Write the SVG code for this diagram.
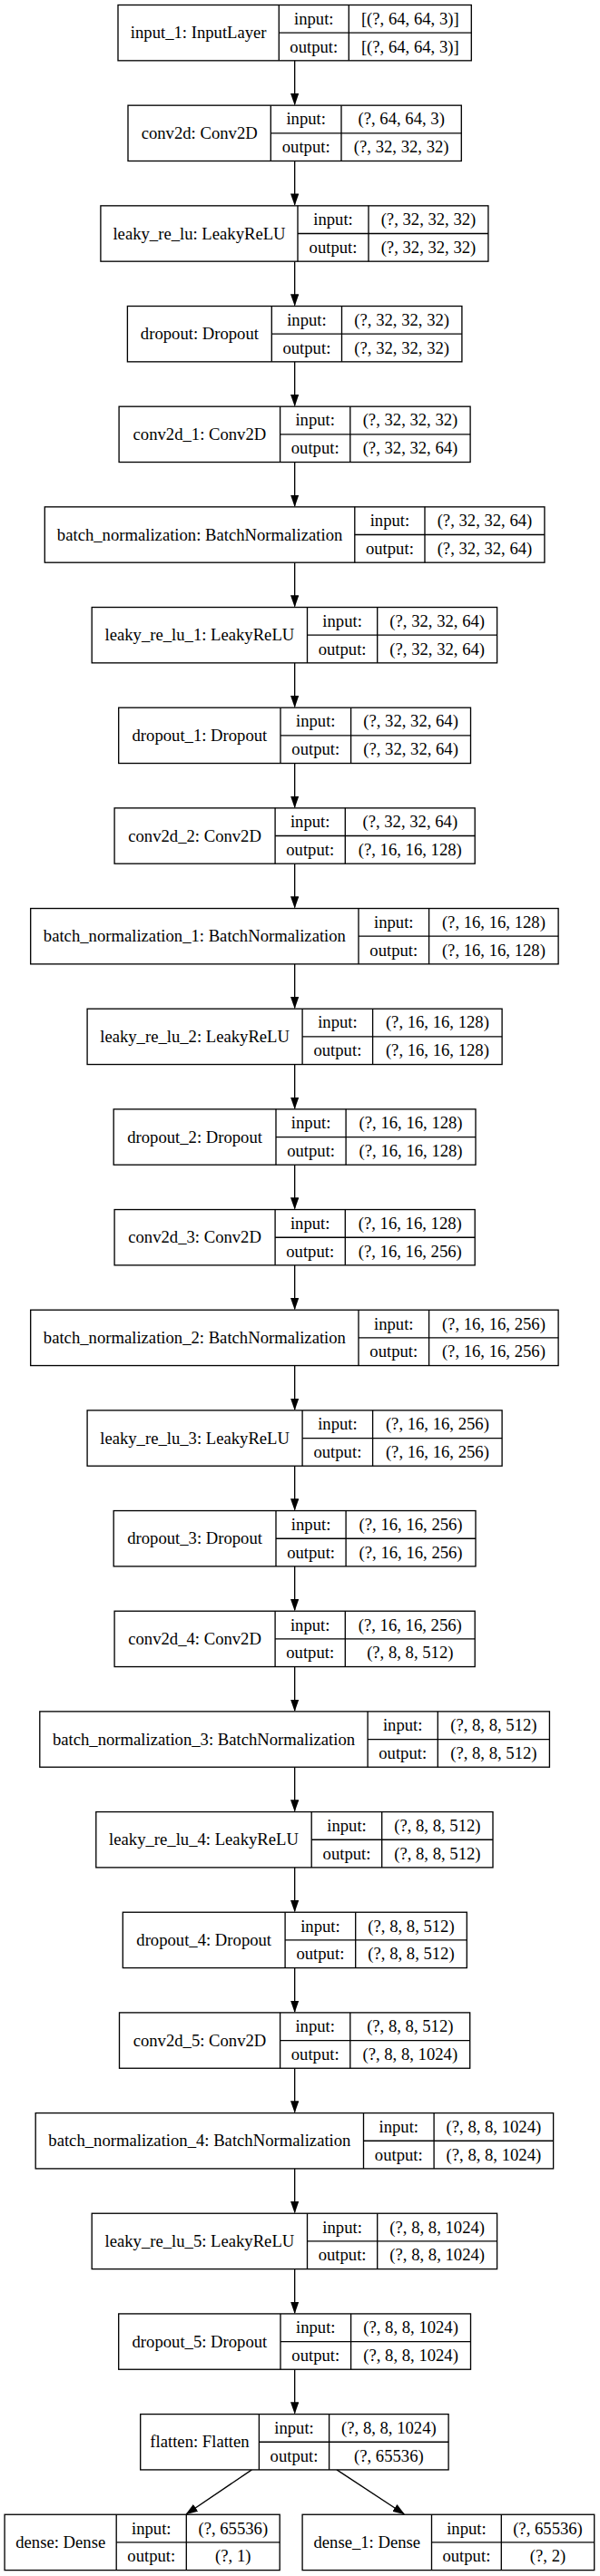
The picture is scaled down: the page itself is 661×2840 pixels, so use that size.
<svg xmlns="http://www.w3.org/2000/svg" width="661" height="2840" viewBox="0 0 661 2840">
<style>
.bg{fill:#ffffff}
.node rect{fill:#ffffff;stroke:#000000;stroke-width:1.33}
.node line{stroke:#000000;stroke-width:1.33}
.node text{font-family:"Liberation Serif","Times New Roman",serif;font-size:18.67px;fill:#000000;text-anchor:middle}
.edges line{stroke:#000000;stroke-width:1.33}
</style>
<defs>
<marker id="ah" markerUnits="userSpaceOnUse" viewBox="0 0 13.33 9.33" refX="12.33" refY="4.67" markerWidth="13.33" markerHeight="9.33" orient="auto">
<path d="M0,0 L13.33,4.67 L0,9.33 Z" fill="#000000"/>
</marker>
</defs>
<rect class="bg" x="0" y="0" width="661" height="2840"/>

<g id="edges" class="edges">
<line x1="324.67" y1="66.8" x2="324.67" y2="115.2" marker-end="url(#ah)"/>
<line x1="324.67" y1="177.5" x2="324.67" y2="225.8" marker-end="url(#ah)"/>
<line x1="324.67" y1="288.2" x2="324.67" y2="336.5" marker-end="url(#ah)"/>
<line x1="324.67" y1="398.8" x2="324.67" y2="447.2" marker-end="url(#ah)"/>
<line x1="324.67" y1="509.5" x2="324.67" y2="557.9" marker-end="url(#ah)"/>
<line x1="324.67" y1="620.2" x2="324.67" y2="668.5" marker-end="url(#ah)"/>
<line x1="324.67" y1="730.9" x2="324.67" y2="779.2" marker-end="url(#ah)"/>
<line x1="324.67" y1="841.5" x2="324.67" y2="889.9" marker-end="url(#ah)"/>
<line x1="324.67" y1="952.2" x2="324.67" y2="1000.5" marker-end="url(#ah)"/>
<line x1="324.67" y1="1062.9" x2="324.67" y2="1111.2" marker-end="url(#ah)"/>
<line x1="324.67" y1="1173.5" x2="324.67" y2="1221.9" marker-end="url(#ah)"/>
<line x1="324.67" y1="1284.2" x2="324.67" y2="1332.5" marker-end="url(#ah)"/>
<line x1="324.67" y1="1394.9" x2="324.67" y2="1443.2" marker-end="url(#ah)"/>
<line x1="324.67" y1="1505.5" x2="324.67" y2="1553.9" marker-end="url(#ah)"/>
<line x1="324.67" y1="1616.2" x2="324.67" y2="1664.5" marker-end="url(#ah)"/>
<line x1="324.67" y1="1726.9" x2="324.67" y2="1775.2" marker-end="url(#ah)"/>
<line x1="324.67" y1="1837.5" x2="324.67" y2="1885.9" marker-end="url(#ah)"/>
<line x1="324.67" y1="1948.2" x2="324.67" y2="1996.6" marker-end="url(#ah)"/>
<line x1="324.67" y1="2058.9" x2="324.67" y2="2107.2" marker-end="url(#ah)"/>
<line x1="324.67" y1="2169.6" x2="324.67" y2="2217.9" marker-end="url(#ah)"/>
<line x1="324.67" y1="2280.2" x2="324.67" y2="2328.6" marker-end="url(#ah)"/>
<line x1="324.67" y1="2390.9" x2="324.67" y2="2439.2" marker-end="url(#ah)"/>
<line x1="324.67" y1="2501.6" x2="324.67" y2="2549.9" marker-end="url(#ah)"/>
<line x1="324.67" y1="2612.2" x2="324.67" y2="2660.6" marker-end="url(#ah)"/>
<line x1="277.4" y1="2722.9" x2="205.3" y2="2771.7" marker-end="url(#ah)"/>
<line x1="371" y1="2722.9" x2="445.2" y2="2771.7" marker-end="url(#ah)"/>
</g>

<g id="input_1" class="node" transform="translate(0,5.5)">
<rect x="130" y="0" width="389.3" height="61.33"/>
<line x1="307.3" y1="0" x2="307.3" y2="61.33"/><line x1="384.3" y1="0" x2="384.3" y2="61.33"/><line x1="307.3" y1="30.67" x2="519.3" y2="30.67"/>
<text x="218.7" y="36.7">input_1: InputLayer</text>
<text x="345.8" y="21.3">input:</text><text x="345.8" y="52">output:</text>
<text x="451.8" y="21.3">[(?, 64, 64, 3)]</text><text x="451.8" y="52">[(?, 64, 64, 3)]</text>
</g>

<g id="conv2d" class="node" transform="translate(0,116.17)">
<rect x="141" y="0" width="367.3" height="61.33"/>
<line x1="298.3" y1="0" x2="298.3" y2="61.33"/><line x1="376" y1="0" x2="376" y2="61.33"/><line x1="298.3" y1="30.67" x2="508.3" y2="30.67"/>
<text x="219.7" y="36.7">conv2d: Conv2D</text>
<text x="337.2" y="21.3">input:</text><text x="337.2" y="52">output:</text>
<text x="442.2" y="21.3">(?, 64, 64, 3)</text><text x="442.2" y="52">(?, 32, 32, 32)</text>
</g>

<g id="leaky_re_lu" class="node" transform="translate(0,226.84)">
<rect x="110.9" y="0" width="427" height="61.33"/>
<line x1="328" y1="0" x2="328" y2="61.33"/><line x1="406" y1="0" x2="406" y2="61.33"/><line x1="328" y1="30.67" x2="537.9" y2="30.67"/>
<text x="219.5" y="36.7">leaky_re_lu: LeakyReLU</text>
<text x="367" y="21.3">input:</text><text x="367" y="52">output:</text>
<text x="472" y="21.3">(?, 32, 32, 32)</text><text x="472" y="52">(?, 32, 32, 32)</text>
</g>

<g id="dropout" class="node" transform="translate(0,337.51)">
<rect x="140.4" y="0" width="368.5" height="61.33"/>
<line x1="299.3" y1="0" x2="299.3" y2="61.33"/><line x1="376.5" y1="0" x2="376.5" y2="61.33"/><line x1="299.3" y1="30.67" x2="508.9" y2="30.67"/>
<text x="219.9" y="36.7">dropout: Dropout</text>
<text x="337.9" y="21.3">input:</text><text x="337.9" y="52">output:</text>
<text x="442.7" y="21.3">(?, 32, 32, 32)</text><text x="442.7" y="52">(?, 32, 32, 32)</text>
</g>

<g id="conv2d_1" class="node" transform="translate(0,448.18)">
<rect x="131.1" y="0" width="387" height="61.33"/>
<line x1="308.6" y1="0" x2="308.6" y2="61.33"/><line x1="385.8" y1="0" x2="385.8" y2="61.33"/><line x1="308.6" y1="30.67" x2="518.1" y2="30.67"/>
<text x="219.9" y="36.7">conv2d_1: Conv2D</text>
<text x="347.2" y="21.3">input:</text><text x="347.2" y="52">output:</text>
<text x="452" y="21.3">(?, 32, 32, 32)</text><text x="452" y="52">(?, 32, 32, 64)</text>
</g>

<g id="batch_normalization" class="node" transform="translate(0,558.85)">
<rect x="49.3" y="0" width="550.6" height="61.33"/>
<line x1="390.8" y1="0" x2="390.8" y2="61.33"/><line x1="468" y1="0" x2="468" y2="61.33"/><line x1="390.8" y1="30.67" x2="599.9" y2="30.67"/>
<text x="220.1" y="36.7">batch_normalization: BatchNormalization</text>
<text x="429.4" y="21.3">input:</text><text x="429.4" y="52">output:</text>
<text x="534" y="21.3">(?, 32, 32, 64)</text><text x="534" y="52">(?, 32, 32, 64)</text>
</g>

<g id="leaky_re_lu_1" class="node" transform="translate(0,669.52)">
<rect x="101.2" y="0" width="446.4" height="61.33"/>
<line x1="338.5" y1="0" x2="338.5" y2="61.33"/><line x1="415.7" y1="0" x2="415.7" y2="61.33"/><line x1="338.5" y1="30.67" x2="547.6" y2="30.67"/>
<text x="219.9" y="36.7">leaky_re_lu_1: LeakyReLU</text>
<text x="377.1" y="21.3">input:</text><text x="377.1" y="52">output:</text>
<text x="481.7" y="21.3">(?, 32, 32, 64)</text><text x="481.7" y="52">(?, 32, 32, 64)</text>
</g>

<g id="dropout_1" class="node" transform="translate(0,780.19)">
<rect x="130.7" y="0" width="387.8" height="61.33"/>
<line x1="309" y1="0" x2="309" y2="61.33"/><line x1="386.6" y1="0" x2="386.6" y2="61.33"/><line x1="309" y1="30.67" x2="518.5" y2="30.67"/>
<text x="219.9" y="36.7">dropout_1: Dropout</text>
<text x="347.8" y="21.3">input:</text><text x="347.8" y="52">output:</text>
<text x="452.6" y="21.3">(?, 32, 32, 64)</text><text x="452.6" y="52">(?, 32, 32, 64)</text>
</g>

<g id="conv2d_2" class="node" transform="translate(0,890.86)">
<rect x="126.1" y="0" width="397.1" height="61.33"/>
<line x1="303.1" y1="0" x2="303.1" y2="61.33"/><line x1="380.3" y1="0" x2="380.3" y2="61.33"/><line x1="303.1" y1="30.67" x2="523.2" y2="30.67"/>
<text x="214.6" y="36.7">conv2d_2: Conv2D</text>
<text x="341.7" y="21.3">input:</text><text x="341.7" y="52">output:</text>
<text x="451.8" y="21.3">(?, 32, 32, 64)</text><text x="451.8" y="52">(?, 16, 16, 128)</text>
</g>

<g id="batch_normalization_1" class="node" transform="translate(0,1001.53)">
<rect x="33.7" y="0" width="581.4" height="61.33"/>
<line x1="395" y1="0" x2="395" y2="61.33"/><line x1="472.6" y1="0" x2="472.6" y2="61.33"/><line x1="395" y1="30.67" x2="615.1" y2="30.67"/>
<text x="214.4" y="36.7">batch_normalization_1: BatchNormalization</text>
<text x="433.8" y="21.3">input:</text><text x="433.8" y="52">output:</text>
<text x="543.9" y="21.3">(?, 16, 16, 128)</text><text x="543.9" y="52">(?, 16, 16, 128)</text>
</g>

<g id="leaky_re_lu_2" class="node" transform="translate(0,1112.2)">
<rect x="96.1" y="0" width="457" height="61.33"/>
<line x1="333.1" y1="0" x2="333.1" y2="61.33"/><line x1="410.6" y1="0" x2="410.6" y2="61.33"/><line x1="333.1" y1="30.67" x2="553.1" y2="30.67"/>
<text x="214.6" y="36.7">leaky_re_lu_2: LeakyReLU</text>
<text x="371.9" y="21.3">input:</text><text x="371.9" y="52">output:</text>
<text x="481.9" y="21.3">(?, 16, 16, 128)</text><text x="481.9" y="52">(?, 16, 16, 128)</text>
</g>

<g id="dropout_2" class="node" transform="translate(0,1222.87)">
<rect x="125.2" y="0" width="398.8" height="61.33"/>
<line x1="304" y1="0" x2="304" y2="61.33"/><line x1="381.1" y1="0" x2="381.1" y2="61.33"/><line x1="304" y1="30.67" x2="524" y2="30.67"/>
<text x="214.6" y="36.7">dropout_2: Dropout</text>
<text x="342.6" y="21.3">input:</text><text x="342.6" y="52">output:</text>
<text x="452.6" y="21.3">(?, 16, 16, 128)</text><text x="452.6" y="52">(?, 16, 16, 128)</text>
</g>

<g id="conv2d_3" class="node" transform="translate(0,1333.54)">
<rect x="126.1" y="0" width="397.1" height="61.33"/>
<line x1="303.1" y1="0" x2="303.1" y2="61.33"/><line x1="380.3" y1="0" x2="380.3" y2="61.33"/><line x1="303.1" y1="30.67" x2="523.2" y2="30.67"/>
<text x="214.6" y="36.7">conv2d_3: Conv2D</text>
<text x="341.7" y="21.3">input:</text><text x="341.7" y="52">output:</text>
<text x="451.8" y="21.3">(?, 16, 16, 128)</text><text x="451.8" y="52">(?, 16, 16, 256)</text>
</g>

<g id="batch_normalization_2" class="node" transform="translate(0,1444.21)">
<rect x="33.7" y="0" width="581.4" height="61.33"/>
<line x1="395" y1="0" x2="395" y2="61.33"/><line x1="472.6" y1="0" x2="472.6" y2="61.33"/><line x1="395" y1="30.67" x2="615.1" y2="30.67"/>
<text x="214.4" y="36.7">batch_normalization_2: BatchNormalization</text>
<text x="433.8" y="21.3">input:</text><text x="433.8" y="52">output:</text>
<text x="543.9" y="21.3">(?, 16, 16, 256)</text><text x="543.9" y="52">(?, 16, 16, 256)</text>
</g>

<g id="leaky_re_lu_3" class="node" transform="translate(0,1554.88)">
<rect x="96.1" y="0" width="457" height="61.33"/>
<line x1="333.1" y1="0" x2="333.1" y2="61.33"/><line x1="410.6" y1="0" x2="410.6" y2="61.33"/><line x1="333.1" y1="30.67" x2="553.1" y2="30.67"/>
<text x="214.6" y="36.7">leaky_re_lu_3: LeakyReLU</text>
<text x="371.9" y="21.3">input:</text><text x="371.9" y="52">output:</text>
<text x="481.9" y="21.3">(?, 16, 16, 256)</text><text x="481.9" y="52">(?, 16, 16, 256)</text>
</g>

<g id="dropout_3" class="node" transform="translate(0,1665.55)">
<rect x="125.2" y="0" width="398.8" height="61.33"/>
<line x1="304" y1="0" x2="304" y2="61.33"/><line x1="381.1" y1="0" x2="381.1" y2="61.33"/><line x1="304" y1="30.67" x2="524" y2="30.67"/>
<text x="214.6" y="36.7">dropout_3: Dropout</text>
<text x="342.6" y="21.3">input:</text><text x="342.6" y="52">output:</text>
<text x="452.6" y="21.3">(?, 16, 16, 256)</text><text x="452.6" y="52">(?, 16, 16, 256)</text>
</g>

<g id="conv2d_4" class="node" transform="translate(0,1776.22)">
<rect x="126.1" y="0" width="397.1" height="61.33"/>
<line x1="303.1" y1="0" x2="303.1" y2="61.33"/><line x1="380.3" y1="0" x2="380.3" y2="61.33"/><line x1="303.1" y1="30.67" x2="523.2" y2="30.67"/>
<text x="214.6" y="36.7">conv2d_4: Conv2D</text>
<text x="341.7" y="21.3">input:</text><text x="341.7" y="52">output:</text>
<text x="451.8" y="21.3">(?, 16, 16, 256)</text><text x="451.8" y="52">(?, 8, 8, 512)</text>
</g>

<g id="batch_normalization_3" class="node" transform="translate(0,1886.89)">
<rect x="43.8" y="0" width="561.6" height="61.33"/>
<line x1="405.1" y1="0" x2="405.1" y2="61.33"/><line x1="482.3" y1="0" x2="482.3" y2="61.33"/><line x1="405.1" y1="30.67" x2="605.4" y2="30.67"/>
<text x="224.5" y="36.7">batch_normalization_3: BatchNormalization</text>
<text x="443.7" y="21.3">input:</text><text x="443.7" y="52">output:</text>
<text x="543.9" y="21.3">(?, 8, 8, 512)</text><text x="543.9" y="52">(?, 8, 8, 512)</text>
</g>

<g id="leaky_re_lu_4" class="node" transform="translate(0,1997.56)">
<rect x="105.8" y="0" width="437.2" height="61.33"/>
<line x1="343.2" y1="0" x2="343.2" y2="61.33"/><line x1="420.7" y1="0" x2="420.7" y2="61.33"/><line x1="343.2" y1="30.67" x2="543" y2="30.67"/>
<text x="224.5" y="36.7">leaky_re_lu_4: LeakyReLU</text>
<text x="382" y="21.3">input:</text><text x="382" y="52">output:</text>
<text x="481.9" y="21.3">(?, 8, 8, 512)</text><text x="481.9" y="52">(?, 8, 8, 512)</text>
</g>

<g id="dropout_4" class="node" transform="translate(0,2108.23)">
<rect x="135.3" y="0" width="379" height="61.33"/>
<line x1="314.1" y1="0" x2="314.1" y2="61.33"/><line x1="391.7" y1="0" x2="391.7" y2="61.33"/><line x1="314.1" y1="30.67" x2="514.3" y2="30.67"/>
<text x="224.7" y="36.7">dropout_4: Dropout</text>
<text x="352.9" y="21.3">input:</text><text x="352.9" y="52">output:</text>
<text x="453" y="21.3">(?, 8, 8, 512)</text><text x="453" y="52">(?, 8, 8, 512)</text>
</g>

<g id="conv2d_5" class="node" transform="translate(0,2218.9)">
<rect x="131.5" y="0" width="386.2" height="61.33"/>
<line x1="308.6" y1="0" x2="308.6" y2="61.33"/><line x1="385.8" y1="0" x2="385.8" y2="61.33"/><line x1="308.6" y1="30.67" x2="517.7" y2="30.67"/>
<text x="220" y="36.7">conv2d_5: Conv2D</text>
<text x="347.2" y="21.3">input:</text><text x="347.2" y="52">output:</text>
<text x="451.8" y="21.3">(?, 8, 8, 512)</text><text x="451.8" y="52">(?, 8, 8, 1024)</text>
</g>

<g id="batch_normalization_4" class="node" transform="translate(0,2329.57)">
<rect x="39.2" y="0" width="570.4" height="61.33"/>
<line x1="400.5" y1="0" x2="400.5" y2="61.33"/><line x1="478.1" y1="0" x2="478.1" y2="61.33"/><line x1="400.5" y1="30.67" x2="609.6" y2="30.67"/>
<text x="219.9" y="36.7">batch_normalization_4: BatchNormalization</text>
<text x="439.3" y="21.3">input:</text><text x="439.3" y="52">output:</text>
<text x="543.9" y="21.3">(?, 8, 8, 1024)</text><text x="543.9" y="52">(?, 8, 8, 1024)</text>
</g>

<g id="leaky_re_lu_5" class="node" transform="translate(0,2440.24)">
<rect x="101.2" y="0" width="446.4" height="61.33"/>
<line x1="338.5" y1="0" x2="338.5" y2="61.33"/><line x1="415.7" y1="0" x2="415.7" y2="61.33"/><line x1="338.5" y1="30.67" x2="547.6" y2="30.67"/>
<text x="219.9" y="36.7">leaky_re_lu_5: LeakyReLU</text>
<text x="377.1" y="21.3">input:</text><text x="377.1" y="52">output:</text>
<text x="481.7" y="21.3">(?, 8, 8, 1024)</text><text x="481.7" y="52">(?, 8, 8, 1024)</text>
</g>

<g id="dropout_5" class="node" transform="translate(0,2550.91)">
<rect x="130.7" y="0" width="387.8" height="61.33"/>
<line x1="309" y1="0" x2="309" y2="61.33"/><line x1="386.6" y1="0" x2="386.6" y2="61.33"/><line x1="309" y1="30.67" x2="518.5" y2="30.67"/>
<text x="219.9" y="36.7">dropout_5: Dropout</text>
<text x="347.8" y="21.3">input:</text><text x="347.8" y="52">output:</text>
<text x="452.6" y="21.3">(?, 8, 8, 1024)</text><text x="452.6" y="52">(?, 8, 8, 1024)</text>
</g>

<g id="flatten" class="node" transform="translate(0,2661.58)">
<rect x="154.7" y="0" width="339.4" height="61.33"/>
<line x1="285.4" y1="0" x2="285.4" y2="61.33"/><line x1="362.6" y1="0" x2="362.6" y2="61.33"/><line x1="285.4" y1="30.67" x2="494.1" y2="30.67"/>
<text x="220" y="36.7">flatten: Flatten</text>
<text x="324" y="21.3">input:</text><text x="324" y="52">output:</text>
<text x="428.4" y="21.3">(?, 8, 8, 1024)</text><text x="428.4" y="52">(?, 65536)</text>
</g>

<g id="dense" class="node" transform="translate(0,2772.25)">
<rect x="5.1" y="0" width="303.1" height="61.33"/>
<line x1="128.2" y1="0" x2="128.2" y2="61.33"/><line x1="205.3" y1="0" x2="205.3" y2="61.33"/><line x1="128.2" y1="30.67" x2="308.2" y2="30.67"/>
<text x="66.7" y="36.7">dense: Dense</text>
<text x="166.8" y="21.3">input:</text><text x="166.8" y="52">output:</text>
<text x="256.8" y="21.3">(?, 65536)</text><text x="256.8" y="52">(?, 1)</text>
</g>

<g id="dense_1" class="node" transform="translate(0,2772.25)">
<rect x="333.1" y="0" width="321.6" height="61.33"/>
<line x1="475.5" y1="0" x2="475.5" y2="61.33"/><line x1="552.3" y1="0" x2="552.3" y2="61.33"/><line x1="475.5" y1="30.67" x2="654.7" y2="30.67"/>
<text x="404.3" y="36.7">dense_1: Dense</text>
<text x="513.9" y="21.3">input:</text><text x="513.9" y="52">output:</text>
<text x="603.5" y="21.3">(?, 65536)</text><text x="603.5" y="52">(?, 2)</text>
</g>
</svg>
